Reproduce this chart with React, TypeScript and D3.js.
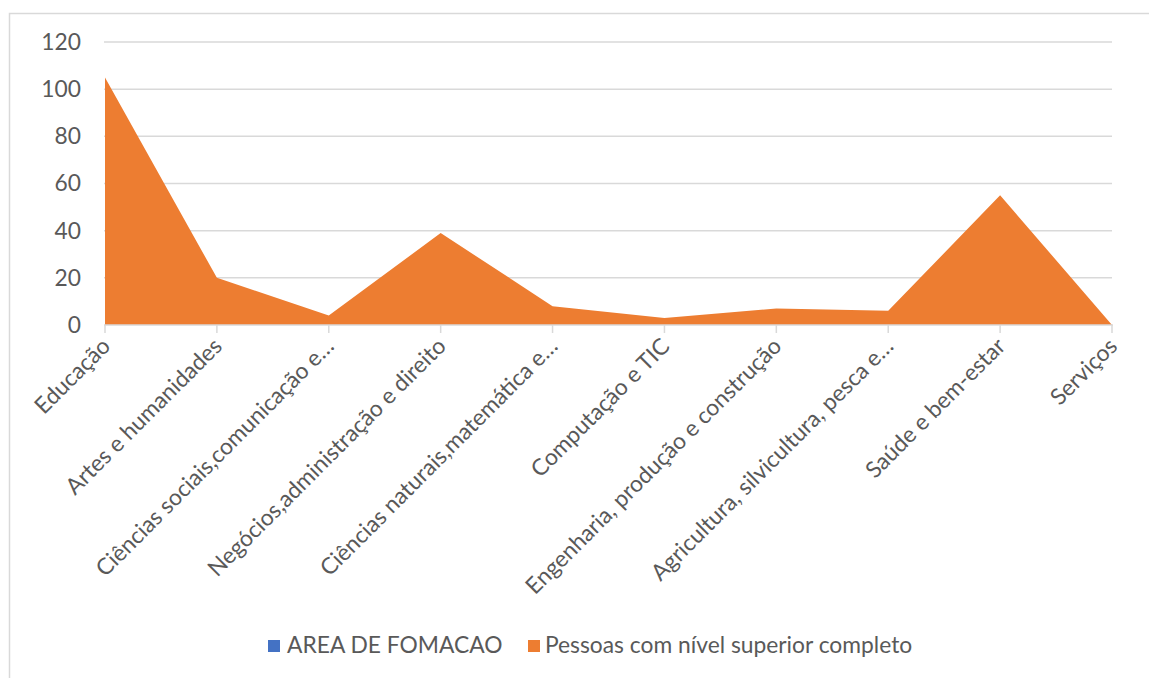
import React from "react";
import * as d3 from "d3";

const categories = [
  "Educação",
  "Artes e humanidades",
  "Ciências sociais,comunicação e…",
  "Negócios,administração e direito",
  "Ciências naturais,matemática e…",
  "Computação e TIC",
  "Engenharia, produção e construção",
  "Agricultura, silvicultura, pesca e…",
  "Saúde e bem-estar",
  "Serviços",
];
const pessoasValues = [105, 20, 4, 39, 8, 3, 7, 6, 55, 0];
const yTicks = [0, 20, 40, 60, 80, 100, 120];
const legendItems = ["AREA DE FOMACAO", "Pessoas com nível superior completo"];
const legendColors = ["#4472C4", "#ED7D31"];

const W = 1149;
const H = 678;
const FONT = "Lato, 'Open Sans', sans-serif";
const FS = 22.8;
const TEXT = "#595959";
const GRID = "#d9d9d9";

export default function App() {
  const x = d3.scalePoint<string>().domain(categories).range([105, 1112]);
  const y = d3.scaleLinear().domain([0, 120]).range([325, 42]);
  const area = d3
    .area<number>()
    .x((_, i) => x(categories[i]) as number)
    .y0(y(0))
    .y1((d) => y(d));

  return (
    <svg
      width={W}
      height={H}
      style={{ position: "absolute", left: 0, top: 0, background: "#fff" }}
      fontFamily={FONT}
    >
      <rect x={9.5} y={13.5} width={1300} height={800} fill="#fff" stroke={GRID} strokeWidth={1.5} />
      {yTicks.map((t) => (
        <g key={t}>
          {t !== 0 && (
            <line x1={104} x2={1112} y1={y(t)} y2={y(t)} stroke={GRID} strokeWidth={1.5} />
          )}
          <text x={81} y={y(t)} dy="0.35em" textAnchor="end" fontSize={FS} fill={TEXT}>
            {t}
          </text>
        </g>
      ))}
      <path d={area(pessoasValues) || ""} fill="#ED7D31" />
      <line x1={104} x2={1113} y1={y(0)} y2={y(0)} stroke={GRID} strokeWidth={1.5} />
      {categories.map((c) => (
        <line key={"t" + c} x1={x(c)} x2={x(c)} y1={y(0)} y2={y(0) + 8} stroke={GRID} strokeWidth={1.5} />
      ))}
      {categories.map((c) => (
        <text
          key={"l" + c}
          transform={`translate(${(x(c) as number) + 1},342) rotate(-45)`}
          dy="0.35em"
          textAnchor="end"
          fontSize={FS}
          fill={TEXT}
        >
          {c}
        </text>
      ))}
      <g>
        <rect x={268} y={640} width={12} height={12} fill={legendColors[0]} />
        <text x={287} y={653} fontSize={FS} fill={TEXT}>
          {legendItems[0]}
        </text>
        <rect x={528} y={640} width={12} height={12} fill={legendColors[1]} />
        <text x={545} y={653} fontSize={FS} fill={TEXT}>
          {legendItems[1]}
        </text>
      </g>
    </svg>
  );
}
